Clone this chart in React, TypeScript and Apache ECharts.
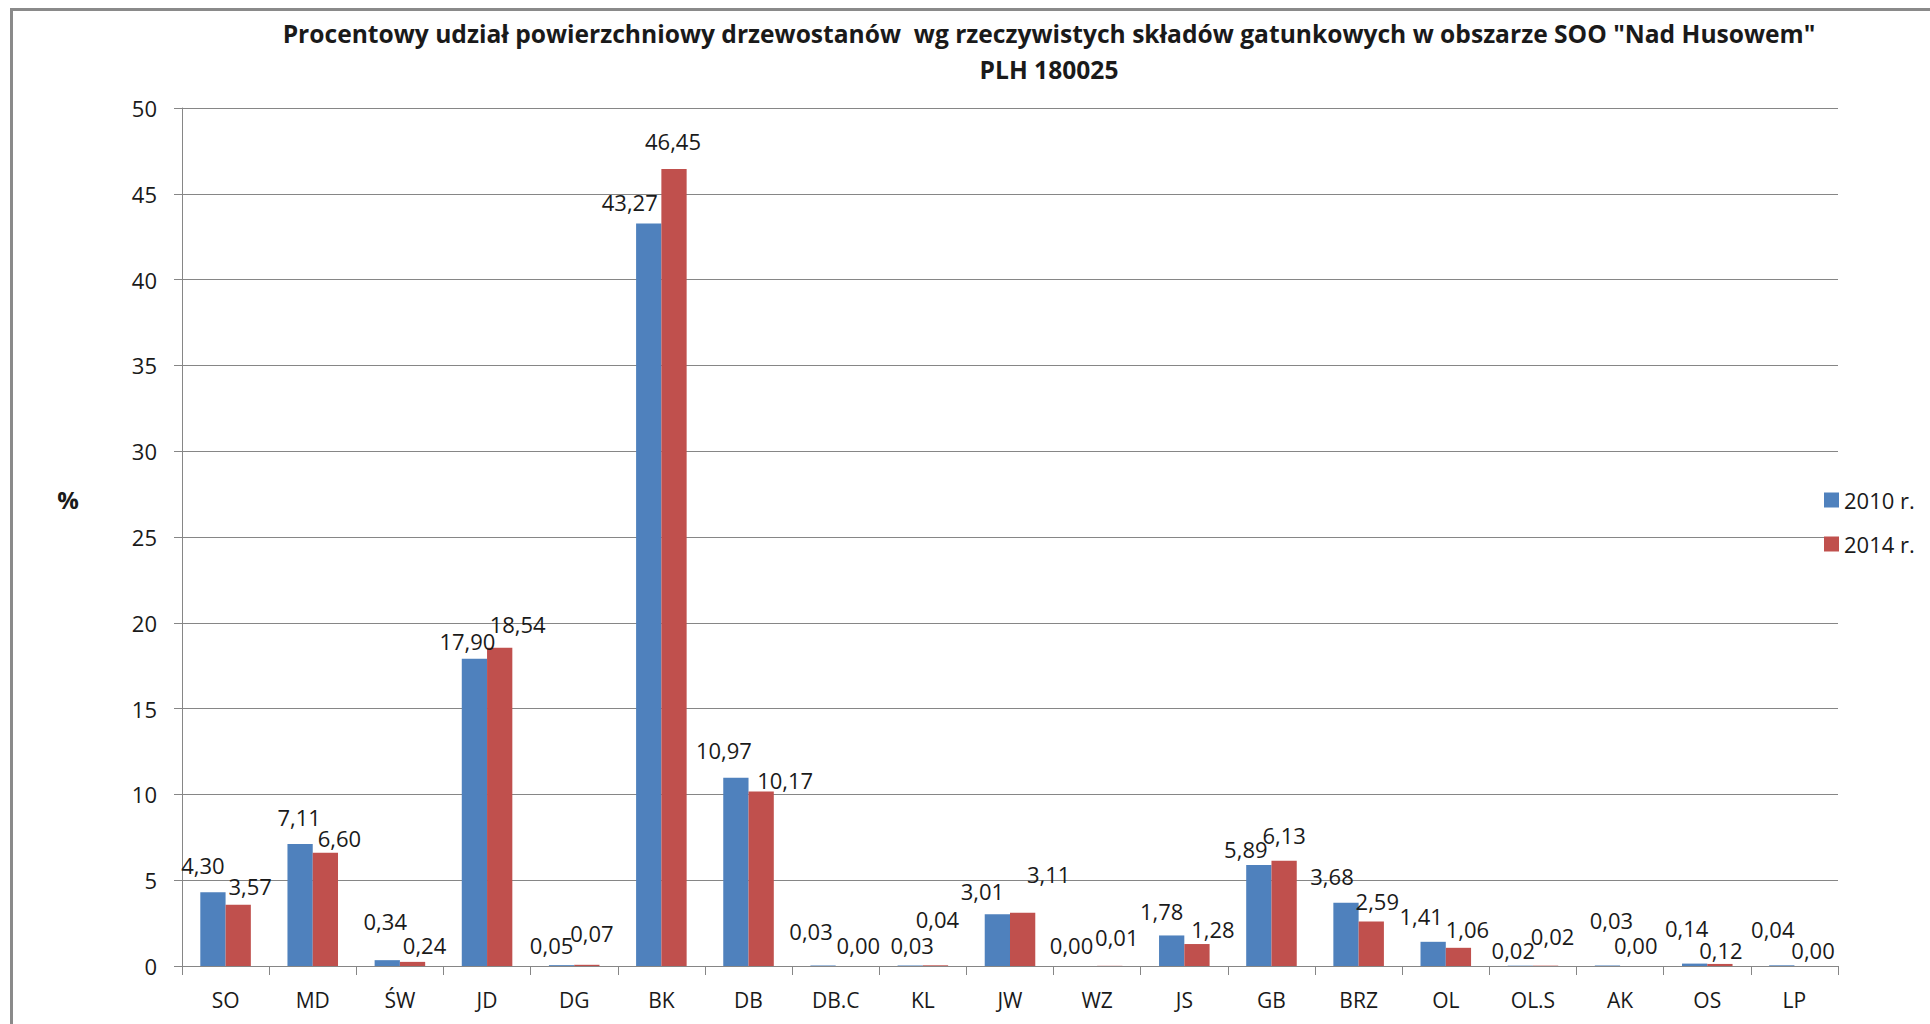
import React, { useEffect, useRef } from "react";
import * as echarts from "echarts";

// Tree species codes
const categories = [
  "SO", "MD", "ŚW", "JD", "DG", "BK", "DB", "DB.C", "KL", "JW",
  "WZ", "JS", "GB", "BRZ", "OL", "OL.S", "AK", "OS", "LP",
];

// Percentage share of stand area, 2010
const share2010 = [
  4.3, 7.11, 0.34, 17.9, 0.05, 43.27, 10.97, 0.03, 0.03, 3.01,
  0.0, 1.78, 5.89, 3.68, 1.41, 0.02, 0.03, 0.14, 0.04,
];

// Percentage share of stand area, 2014
const share2014 = [
  3.57, 6.6, 0.24, 18.54, 0.07, 46.45, 10.17, 0.0, 0.04, 3.11,
  0.01, 1.28, 6.13, 2.59, 1.06, 0.02, 0.0, 0.12, 0.0,
];

// Hand-placed value labels (px shift of the label centre from the bar top)
const labelShift2010: [number, number][] = [
  [-10, -27], [-1, -27], [-2, -39], [-7, -18], [-10, -20],
  [-19, -21], [-12, -28], [-12, -34], [2, -20], [-15, -23],
  [-13, -21], [-10, -24], [-13, -16], [-14, -27], [-12, -26],
  [-7, -16], [4, -45], [-8, -36], [-9, -36],
];
const labelShift2014: [number, number][] = [
  [12, -19], [14, -15], [12, -17], [18, -24], [5, -32],
  [-1, -28], [24, -11], [10, -21], [2, -46], [26, -39],
  [7, -29], [16, -15], [0, -26], [6, -21], [9, -19],
  [7, -30], [3, -21], [1, -14], [6, -16],
];

const seriesNames = ["2010 r.", "2014 r."];

const titleLines = [
  'Procentowy udział powierzchniowy drzewostanów  wg rzeczywistych składów gatunkowych w obszarze SOO "Nad Husowem"',
  "PLH 180025",
];

const FONT = "'Open Sans', 'Noto Sans', 'DejaVu Sans', sans-serif";
const BLUE = "#4F81BD";
const RED = "#C0504D";
const GRID_GRAY = "#868686";
const TEXT = "#1a1a1a";

const fmt = (v: number) => v.toFixed(2).replace(".", ",");

const withLabels = (values: number[], shifts: [number, number][]) =>
  values.map((v, i) => ({ value: v, label: { offset: shifts[i] } }));

export default function App() {
  const ref = useRef<HTMLDivElement>(null);

  useEffect(() => {
    if (!ref.current) return;
    const chart = echarts.init(ref.current, null, { renderer: "svg" });

    const labelStyle = {
      show: true,
      position: "top" as const,
      distance: 0,
      verticalAlign: "middle" as const,
      fontFamily: FONT,
      fontSize: 22,
      color: TEXT,
      formatter: (p: any) => fmt(p.value as number),
    };

    chart.setOption({
      animation: false,
      backgroundColor: "#ffffff",
      textStyle: { fontFamily: FONT },
      title: {
        text: titleLines.join("\n"),
        left: 1044,
        top: 10,
        textAlign: "center",
        textStyle: {
          fontFamily: FONT,
          fontWeight: "bold",
          fontSize: 24.6,
          lineHeight: 36,
          color: TEXT,
        },
      },
      legend: {
        orient: "vertical",
        left: 1819,
        top: 484,
        itemWidth: 15,
        itemHeight: 15,
        itemGap: 22,
        icon: "rect",
        data: seriesNames,
        textStyle: { fontFamily: FONT, fontSize: 22, color: TEXT },
      },
      grid: {
        left: 182,
        right: 92,
        top: 108,
        bottom: 58,
        containLabel: false,
      },
      xAxis: {
        type: "category",
        data: categories,
        boundaryGap: true,
        axisLine: { show: true, lineStyle: { color: GRID_GRAY, width: 1 } },
        axisTick: {
          show: true,
          alignWithLabel: false,
          length: 9,
          lineStyle: { color: GRID_GRAY },
        },
        axisLabel: {
          fontFamily: FONT,
          fontSize: 21,
          color: TEXT,
          margin: 23,
          interval: 0,
        },
      },
      yAxis: {
        type: "value",
        min: 0,
        max: 50,
        interval: 5,
        axisLine: { show: true, lineStyle: { color: GRID_GRAY, width: 1 } },
        axisTick: { show: true, length: 8, lineStyle: { color: GRID_GRAY } },
        splitLine: { show: true, lineStyle: { color: GRID_GRAY, width: 1 } },
        axisLabel: {
          fontFamily: FONT,
          fontSize: 22,
          color: TEXT,
          margin: 25,
        },
      },
      graphic: [
        {
          type: "rect",
          silent: true,
          shape: { x: 11.5, y: 9.5, width: 1940, height: 1040 },
          style: { fill: "none", stroke: "#8a8a8a", lineWidth: 3 },
          z: 100,
        },
        {
          type: "text",
          x: 68,
          y: 499,
          style: {
            text: "%",
            fontFamily: FONT,
            fontWeight: "bold",
            fontSize: 24,
            fill: TEXT,
            align: "center",
            verticalAlign: "middle",
          },
        },
      ],
      series: [
        {
          name: seriesNames[0],
          type: "bar",
          data: withLabels(share2010, labelShift2010),
          barGap: "0%",
          barCategoryGap: "42%",
          itemStyle: { color: BLUE },
          label: labelStyle,
        },
        {
          name: seriesNames[1],
          type: "bar",
          data: withLabels(share2014, labelShift2014),
          barGap: "0%",
          barCategoryGap: "42%",
          itemStyle: { color: RED },
          label: labelStyle,
        },
      ],
    });

    return () => chart.dispose();
  }, []);

  return (
    <div
      ref={ref}
      style={{
        position: "fixed",
        left: 0,
        top: 0,
        width: 1930,
        height: 1024,
        background: "#ffffff",
      }}
    />
  );
}
